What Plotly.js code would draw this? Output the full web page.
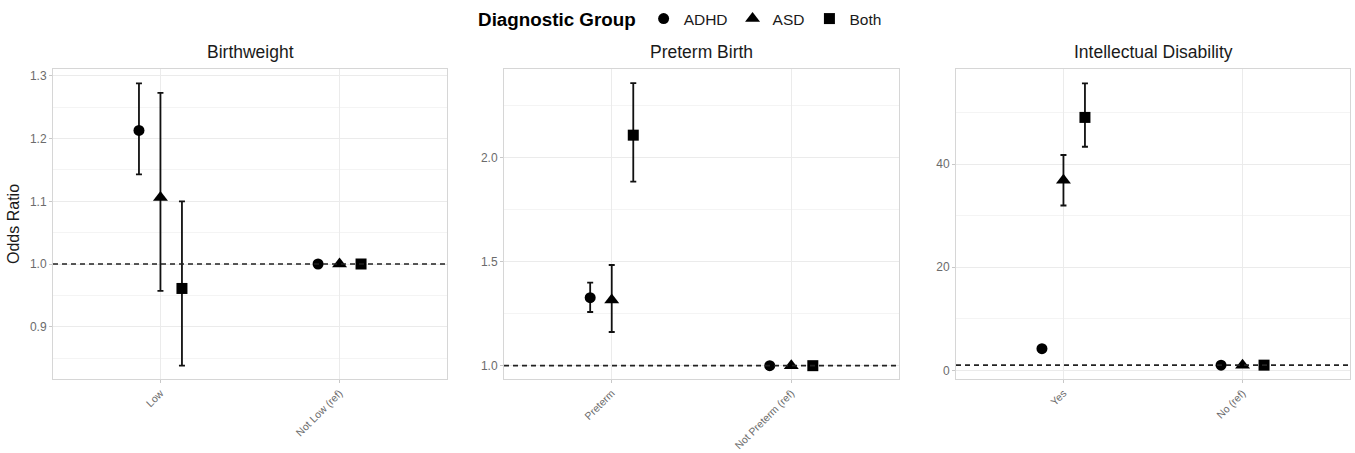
<!DOCTYPE html>
<html><head><meta charset="utf-8">
<script src="https://cdn.plot.ly/plotly-3.0.1.min.js"></script>
<style>html,body{margin:0;padding:0;background:#fff}#chart{width:1355px;height:453px}</style>
</head><body><div id="chart"></div>
<script>
// ---- data ----
const groups = ["ADHD", "ASD", "Both"];
const symbols = ["circle", "triangle-up", "square"];
const markerSizes = [11, 13, 11];

const panelTitles = ["Birthweight", "Preterm Birth", "Intellectual Disability"];

const bwCategories = ["Low", "Not Low (ref)"];
const bwOR    = { ADHD: [1.213, 1.0], ASD: [1.106, 1.0], Both: [0.961, 1.0] };
const bwLower = { ADHD: [1.143, 1.0], ASD: [0.957, 1.0], Both: [0.838, 1.0] };
const bwUpper = { ADHD: [1.288, 1.0], ASD: [1.273, 1.0], Both: [1.100, 1.0] };

const ptCategories = ["Preterm", "Not Preterm (ref)"];
const ptOR    = { ADHD: [1.327, 1.0], ASD: [1.316, 1.0], Both: [2.108, 1.0] };
const ptLower = { ADHD: [1.258, 1.0], ASD: [1.162, 1.0], Both: [1.885, 1.0] };
const ptUpper = { ADHD: [1.399, 1.0], ASD: [1.484, 1.0], Both: [2.358, 1.0] };

const idCategories = ["Yes", "No (ref)"];
const idOR    = { ADHD: [4.2, 1.0], ASD: [36.9, 1.0], Both: [49.1, 1.0] };
const idLower = { ADHD: [3.8, 1.0], ASD: [32.0, 1.0], Both: [43.4, 1.0] };
const idUpper = { ADHD: [4.6, 1.0], ASD: [41.8, 1.0], Both: [55.7, 1.0] };

const referenceOR = 1;

const panels = [
  { cats: bwCategories, or: bwOR, lo: bwLower, hi: bwUpper, range: [0.8166, 1.311], dtick: 0.1, minor: 0.05, fmt: ".1f" },
  { cats: ptCategories, or: ptOR, lo: ptLower, hi: ptUpper, range: [0.936, 2.426], dtick: 0.5, minor: 0.25, fmt: ".1f" },
  { cats: idCategories, or: idOR, lo: idLower, hi: idUpper, range: [-1.69, 58.5], dtick: 20, minor: 10, fmt: "d" }
];

// ---- layout geometry ----
const W = 1355, H = 453;
const xDomains = [[53/W, 447/W], [504/W, 899/W], [956/W, 1350/W]];
const yDomain = [1 - 379/H, 1 - 69/H];
const dodge = 0.12;
const FONT = "Liberation Sans, Arial, Helvetica, sans-serif";

const traces = [];
panels.forEach((p, pi) => {
  const ax = pi === 0 ? "" : String(pi + 1);
  groups.forEach((g, gi) => {
    const xs = p.cats.map((c, ci) => ci + (gi - 1) * dodge);
    traces.push({
      type: "scatter", mode: "markers",
      x: xs, y: p.or[g],
      xaxis: "x" + ax, yaxis: "y" + ax,
      name: g, legendgroup: g, showlegend: pi === 0,
      marker: { symbol: symbols[gi], size: markerSizes[gi], color: "#000000" },
      error_y: {
        type: "data", symmetric: false,
        array: p.hi[g].map((v, i) => v - p.or[g][i]),
        arrayminus: p.or[g].map((v, i) => v - p.lo[g][i]),
        color: "#111111", thickness: 1.8, width: 3
      },
      hoverinfo: "skip"
    });
  });
});

const layout = {
  width: W, height: H,
  margin: { l: 0, r: 0, t: 0, b: 0 },
  paper_bgcolor: "#ffffff", plot_bgcolor: "#ffffff",
  font: { family: FONT, color: "#1a1a1a" },
  showlegend: true,
  legend: {
    orientation: "h", x: 0.503, xanchor: "center", y: 1 - 2/H, yanchor: "top",
    title: { text: "<b>Diagnostic Group</b>", font: { size: 18.8, color: "#000000" } },
    font: { size: 15.5, color: "#1a1a1a" },
    itemwidth: 30, tracegroupgap: 0
  },
  shapes: [],
  annotations: []
};

panels.forEach((p, pi) => {
  const ax = pi === 0 ? "" : String(pi + 1);
  layout["xaxis" + ax] = {
    domain: xDomains[pi], anchor: "y" + ax,
    range: [-0.6, 1.6],
    tickvals: p.cats.map((c, i) => i), ticktext: p.cats,
    tickangle: -45, tickfont: { size: 10.5, color: "#6b6b6b" },
    showgrid: true, gridcolor: "#ebebeb", gridwidth: 1,
    zeroline: false, showline: true, mirror: true, linecolor: "#d6d6d6", linewidth: 1,
    ticks: "outside", ticklen: 3, tickcolor: "#c8c8c8", fixedrange: true
  };
  layout["yaxis" + ax] = {
    domain: yDomain, anchor: "x" + ax,
    range: p.range, dtick: p.dtick, tick0: 0, tickformat: p.fmt,
    tickfont: { size: 12, color: "#6b6b6b" },
    showgrid: true, gridcolor: "#ebebeb", gridwidth: 1,
    minor: { dtick: p.minor, tick0: 0, showgrid: true, gridcolor: "#f4f4f4", gridwidth: 1 },
    zeroline: false, showline: true, mirror: true, linecolor: "#d6d6d6", linewidth: 1,
    ticks: "outside", ticklen: 3, tickcolor: "#c8c8c8", fixedrange: true,
    title: pi === 0 ? { text: "Odds Ratio", font: { size: 16, color: "#1a1a1a" }, standoff: 6 } : { text: "" }
  };
  layout.shapes.push({
    type: "line", xref: "x" + ax + " domain", yref: "y" + ax,
    x0: 0, x1: 1, y0: referenceOR, y1: referenceOR,
    line: { color: "#222222", width: 1.7, dash: "5px,4px" },
    layer: "above"
  });
  layout.annotations.push({
    text: panelTitles[pi], xref: "paper", yref: "paper",
    x: (xDomains[pi][0] + xDomains[pi][1]) / 2, y: 1 - 52/H,
    xanchor: "center", yanchor: "middle", showarrow: false,
    font: { size: 17.5, color: "#1a1a1a" }
  });
});

Plotly.newPlot("chart", traces, layout, { displayModeBar: false, staticPlot: true });
</script>
</body></html>
